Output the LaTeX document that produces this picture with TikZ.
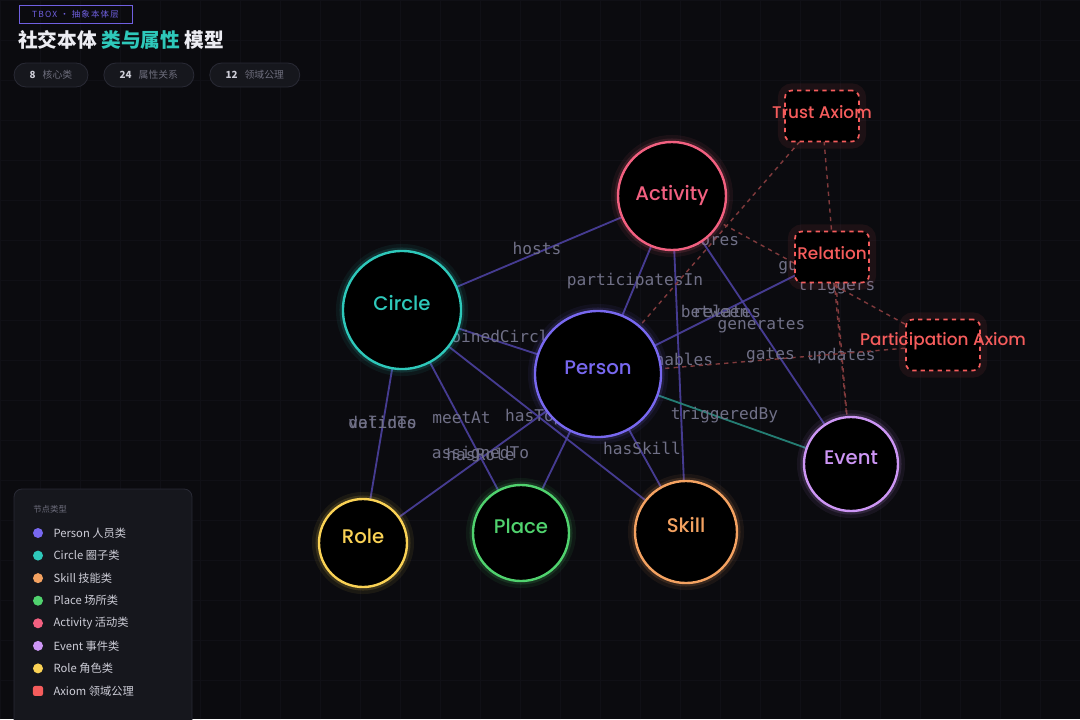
\documentclass[tikz,border=0pt]{standalone}
\usepackage{fontspec}
\usetikzlibrary{positioning}
\newfontfamily\nodefont[UprightFont=* Medium]{Poppins}
\newfontfamily\monofont{DejaVu Sans Mono}
\newfontfamily\cjk{Noto Sans CJK SC}
\newfontfamily\tagfont[LetterSpace=14]{Noto Sans CJK SC}
\definecolor{canvasBg}{RGB}{11,11,15}
\definecolor{gridInk}{RGB}{16,16,22}
\definecolor{personInk}{RGB}{120,104,240}
\definecolor{circleInk}{RGB}{46,200,186}
\definecolor{skillInk}{RGB}{244,162,97}
\definecolor{placeInk}{RGB}{80,210,110}
\definecolor{activityInk}{RGB}{242,96,128}
\definecolor{eventInk}{RGB}{205,150,245}
\definecolor{roleInk}{RGB}{250,210,85}
\definecolor{axiomInk}{RGB}{245,92,92}
\definecolor{edgeInk}{RGB}{80,68,168}
\definecolor{linkTeal}{RGB}{36,125,115}
\definecolor{axiomLine}{RGB}{128,58,60}
\definecolor{labelInk}{RGB}{112,112,135}
\definecolor{panelFill}{RGB}{22,23,29}
\definecolor{panelLine}{RGB}{40,41,52}
\definecolor{softText}{RGB}{205,205,215}
\definecolor{dimText}{RGB}{110,110,125}
\definecolor{titleInk}{RGB}{236,236,242}
\definecolor{tagInk}{RGB}{112,96,225}
\pgfdeclarelayer{back}
\pgfdeclarelayer{edges}
\pgfsetlayers{back,edges,main}
\tikzset{
  cls/.style={circle, draw=#1, line width=1.7pt, fill=black, text=#1, font=\nodefont\fontsize{14}{16}\selectfont,
    text height=9pt, text depth=9pt,
    preaction={draw=#1, line width=10pt, draw opacity=0.07},
    preaction={draw=#1, line width=5pt, draw opacity=0.14}},
  axiombox/.style={rectangle, draw=axiomInk, dashed, line width=1.2pt, rounded corners=5pt, fill=black,
    minimum width=1.85cm, minimum height=1.275cm,
    preaction={draw=axiomInk, solid, line width=10pt, draw opacity=0.08}},
  axtext/.style={text=axiomInk, font=\nodefont\fontsize{12}{14}\selectfont, yshift=3pt},
  link/.style={draw=edgeInk, line width=1.3pt, draw opacity=0.85},
  teallink/.style={draw=linkTeal, line width=1.3pt},
  axlink/.style={draw=axiomLine, line width=1pt, dashed},
  lbl/.style={text=labelInk, font=\monofont\fontsize{11.5}{13}\selectfont, yshift=3pt, inner sep=0pt},
  pill/.style={draw=panelLine, fill=panelFill, rounded corners=0.3cm, minimum height=0.6cm, line width=0.6pt,
    font=\cjk\fontsize{7}{8}\selectfont, text=dimText},
  ldot/.style={circle, minimum size=0.25cm, inner sep=0pt},
  ltext/.style={font=\cjk\fontsize{8}{9}\selectfont, text=softText, inner sep=0pt, anchor=west}
}

\begin{document}
\begin{tikzpicture}[x=0.025cm, y=-0.025cm]
  \useasboundingbox (0,0) rectangle (1080,719);
  \begin{pgfonlayer}{back}
    \fill[canvasBg] (0,0) rectangle (1080,719);
    \draw[gridInk, line width=0.5pt, step=1cm] (0,0) grid (1080,719);
  \end{pgfonlayer}

  % class nodes
  \node[cls=personInk, minimum size=3.15cm] (person) at (598,374) {Person};
  \node[cls=circleInk, minimum size=2.95cm] (circ) at (402,310) {Circle};
  \node[cls=activityInk, minimum size=2.7cm, text depth=3pt] (act) at (672,196) {Activity};
  \node[cls=roleInk, minimum size=2.2cm] (role) at (363,543) {Role};
  \node[cls=placeInk, minimum size=2.4cm] (place) at (521,533) {Place};
  \node[cls=skillInk, minimum size=2.55cm] (skill) at (686,532) {Skill};
  \node[cls=eventInk, minimum size=2.35cm] (event) at (851,464) {Event};

  % axioms
  \node[axiombox, label={[axtext]center:Trust Axiom}] (trust) at (822,116) {};
  \node[axiombox, label={[axtext]center:Relation}] (rel) at (832,257) {};
  \node[axiombox, label={[axtext]center:Participation Axiom}] (part) at (943,345) {};

  \begin{pgfonlayer}{edges}
    \draw[link] (circ.center) -- node[lbl] {hosts} (act.center);
    \draw[link] (person.center) -- node[lbl] {participatesIn} (act.center);
    \draw[link] (person.center) -- node[lbl] {joinedCircle} (circ.center);
    \draw[link] (person.center) -- node[lbl] {between} node[lbl, xshift=0.3cm] {relates} (rel.center);
    \draw[link] (act.center) -- node[lbl] {generates} (event.center);
    \draw[link] (act.center) -- node[lbl] {enables} (skill.center);
    \draw[link] (circ.center) -- node[lbl] {validTo} node[lbl] {defines} (role.center);
    \draw[link] (circ.center) -- node[lbl] {meetAt} (place.center);
    \draw[link] (circ.center) -- node[lbl] {hasTopic} (skill.center);
    \draw[link] (person.center) -- node[lbl] {assignedTo} node[lbl] {hasRole} (role.center);
    \draw[link] (person.center) -- (place.center);
    \draw[link] (person.center) -- node[lbl] {hasSkill} (skill.center);
    \draw[teallink] (person.center) -- node[lbl] {triggeredBy} (event.center);
    \draw[axlink] (trust.center) -- node[lbl] {scores} (person.center);
    \draw[axlink] (trust.center) -- node[lbl] {triggers} (event.center);
    \draw[axlink] (rel.center) -- node[lbl] {updates} (event.center);
    \draw[axlink] (act.center) -- node[lbl] {guides} (part.center);
    \draw[axlink] (person.center) -- node[lbl] {gates} (part.center);
  \end{pgfonlayer}

  % header
  \node[draw=tagInk, line width=0.6pt, text=tagInk, font=\tagfont\fontsize{6}{7}\selectfont,
    minimum width=2.825cm, minimum height=0.45cm, inner sep=0pt] (tag) at (75.5,14) {TBOX · 抽象本体层};
  \node[anchor=west, inner sep=0pt, text=titleInk, font=\cjk\bfseries\fontsize{14}{16}\selectfont] (title) at (18,40)
    {社交本体 \textcolor{circleInk}{类与属性} 模型};
  \node[pill, minimum width=1.85cm] (p1) at (51,75) {\textcolor{softText}{\bfseries 8}\hspace{5pt}核心类};
  \node[pill, minimum width=2.25cm, right=0.375cm of p1] (p2) {\textcolor{softText}{\bfseries 24}\hspace{5pt}属性关系};
  \node[pill, minimum width=2.25cm, right=0.375cm of p2] (p3) {\textcolor{softText}{\bfseries 12}\hspace{5pt}领域公理};

  % legend
  \draw[panelLine, fill=panelFill, line width=0.6pt, rounded corners=0.2cm] (14,489) rectangle (192,735);
  \node[anchor=west, inner sep=0pt, text=dimText, font=\cjk\fontsize{6}{7}\selectfont] (ltitle) at (33,509) {节点类型};
  \node[ldot, fill=personInk] (l1) at (38,533) {};
  \node[ldot, fill=circleInk, below=0.3cm of l1] (l2) {};
  \node[ldot, fill=skillInk, below=0.3cm of l2] (l3) {};
  \node[ldot, fill=placeInk, below=0.3cm of l3] (l4) {};
  \node[ldot, fill=activityInk, below=0.3cm of l4] (l5) {};
  \node[ldot, fill=eventInk, below=0.3cm of l5] (l6) {};
  \node[ldot, fill=roleInk, below=0.3cm of l6] (l7) {};
  \node[ldot, fill=axiomInk, rectangle, rounded corners=1.5pt, below=0.3cm of l7] (l8) {};
  \node[ltext] at ([xshift=0.25cm]l1.east) {Person 人员类};
  \node[ltext] at ([xshift=0.25cm]l2.east) {Circle 圈子类};
  \node[ltext] at ([xshift=0.25cm]l3.east) {Skill 技能类};
  \node[ltext] at ([xshift=0.25cm]l4.east) {Place 场所类};
  \node[ltext] at ([xshift=0.25cm]l5.east) {Activity 活动类};
  \node[ltext] at ([xshift=0.25cm]l6.east) {Event 事件类};
  \node[ltext] at ([xshift=0.25cm]l7.east) {Role 角色类};
  \node[ltext] at ([xshift=0.25cm]l8.east) {Axiom 领域公理};
\end{tikzpicture}
\end{document}
